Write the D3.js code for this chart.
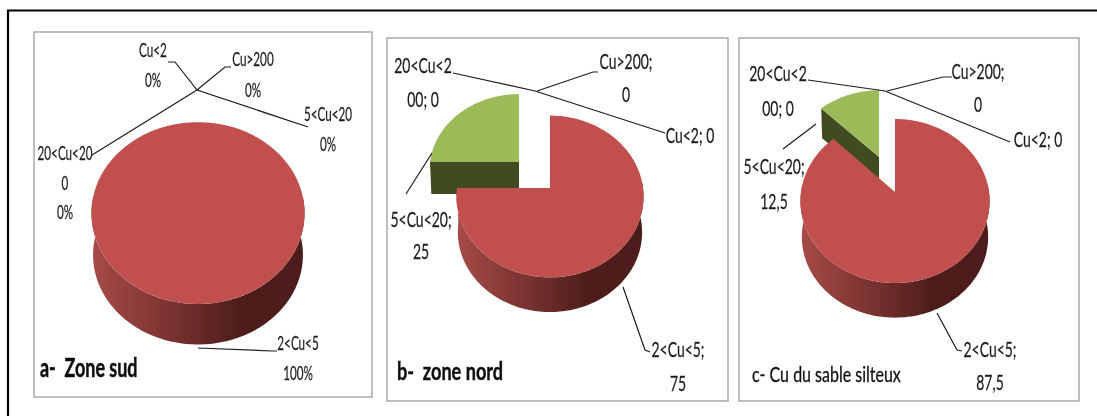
<!DOCTYPE html>
<html>
<head>
<meta charset="utf-8">
<script src="https://d3js.org/d3.v7.min.js"></script>
<style>
  html, body { margin: 0; background: #fff; }
  svg { display: block; }
  text { font-family: Lato, "Open Sans", sans-serif; fill: #1c1c1c; }
</style>
</head>
<body>
<svg id="chart" width="1097" height="416"></svg>
<script>
const categories = ['Cu<2', '2<Cu<5', '5<Cu<20', '20<Cu<200', 'Cu>200'];
const zoneSud = [0, 100, 0, 0, 0];
const zoneNord = [0, 75, 25, 0, 0];
const sableSilteux = [0, 87.5, 12.5, 0, 0];

const titleSud = 'a-  Zone sud';
const titleNord = 'b-  zone nord';
const titleSable = 'c- Cu du sable silteux';

const labelsSud = [['Cu<2', '0%'], ['2<Cu<5', '100%'], ['5<Cu<20', '0%'], ['20<Cu<20', '0', '0%'], ['Cu>200', '0%']];
const labelsNord = [['Cu<2; 0'], ['2<Cu<5;', '75'], ['5<Cu<20;', '25'], ['20<Cu<2', '00; 0'], ['Cu>200;', '0']];
const labelsSable = [['Cu<2; 0'], ['2<Cu<5;', '87,5'], ['5<Cu<20;', '12,5'], ['20<Cu<2', '00; 0'], ['Cu>200;', '0']];

const red = '#c0504d';
const green = '#9bbb59';
const greenDark = '#3f4c22';

// layout of each panel: box, pie geometry, label anchors and leader lines
const panels = [
  {
    values: zoneSud, labels: labelsSud, title: titleSud,
    box: [34, 32, 372, 397],
    titlePos: [40, 377], titleFont: [26, 0.69, 700, 0.5], labelFont: [20, 0.585],
    slices: { 1: { cx: 198, cy: 204, rx: 106, ry: 90, k: 0.1, depth: 42 } },
    anchors: [[153, 57, 30], [298, 350, 30], [328, 121, 30], [65, 160, 29.5], [253, 66, 31]],
    leaders: [
      [[168, 62], [175, 62], [197, 90], [308, 127]],
      [[198, 348], [272, 351], [277, 351]],
      [[231, 67], [225, 67], [197, 90], [92, 155]]
    ]
  },
  {
    values: zoneNord, labels: labelsNord, title: titleNord,
    box: [387, 38, 728, 401],
    titlePos: [397, 380], titleFont: [24, 0.755, 700, 0.4], labelFont: [22, 0.635],
    slices: {
      1: { cx: 550, cy: 188, rx: 93, ry: 80, k: 0.105, depth: 36 },
      2: { cx: 519, cy: 162, rx: 89, ry: 75, k: 0.105, depth: 32 }
    },
    anchors: [[690, 143, 0], [678, 357, 34], [421, 227, 32], [423, 73, 34], [626, 69, 33]],
    leaders: [
      [[453, 73], [535, 91], [665, 133]],
      [[623, 287], [645, 350], [650, 352]],
      [[432, 153], [406, 194]],
      [[598, 72], [593, 72], [537, 91]]
    ]
  },
  {
    values: sableSilteux, labels: labelsSable, title: titleSable,
    box: [739, 38, 1079, 401],
    titlePos: [752, 382], titleFont: [21.5, 0.745, 400, 0.3], labelFont: [22, 0.635],
    slices: {
      1: { cx: 895, cy: 192, rx: 94, ry: 81, k: 0.11, depth: 36 },
      2: { cx: 879, cy: 157, rx: 88, ry: 74, k: 0.11, depth: 29 }
    },
    anchors: [[1038, 147, 0], [990, 357, 33], [774, 174, 35], [778, 81, 35], [978, 79, 33]],
    leaders: [
      [[808, 80], [885, 91], [1010, 142]],
      [[937, 313], [957, 350], [962, 351]],
      [[816, 124], [783, 149]],
      [[952, 77], [943, 77], [887, 91]]
    ]
  }
];

const svg = d3.select('#chart');
const defs = svg.append('defs');

defs.append('filter').attr('id', 'soft')
  .append('feGaussianBlur').attr('stdDeviation', 0.35);

const grad = defs.append('linearGradient').attr('id', 'redSide');
[[0, '#a64b48'], [0.35, '#7c3432'], [0.68, '#4f1f1d'], [1, '#4e1e1c']].forEach(s => {
  grad.append('stop').attr('offset', s[0]).attr('stop-color', s[1]);
});

const root = svg.append('g').attr('filter', 'url(#soft)');

// outer frame only has a top and a left edge
root.append('path')
  .attr('d', d3.line()([[8, 416], [8, 10.5], [1097, 10.5]]))
  .attr('fill', 'none').attr('stroke', '#000').attr('stroke-width', 2.2);

const pie = d3.pie().sort(null);
const line = d3.line();

// tilted disc: the far side shrinks a bit, so the apex is not the ellipse centre
function project(g, a, drop) {
  const x = Math.sin(a), y = -Math.cos(a);
  const w = 1 - g.k * y;
  const s = drop ? 0.985 : 1;
  return [g.cx + s * g.rx * x / w, g.cy + s * g.ry * y / w + (drop ? g.depth : 0)];
}

function arcPoints(g, a0, a1, drop) {
  const n = Math.max(2, Math.ceil((a1 - a0) * 40));
  return d3.range(n + 1).map(i => project(g, a0 + (a1 - a0) * i / n, drop));
}

panels.forEach(p => {
  const g = root.append('g');

  g.append('rect')
    .attr('x', p.box[0]).attr('y', p.box[1])
    .attr('width', p.box[2] - p.box[0]).attr('height', p.box[3] - p.box[1])
    .attr('fill', '#fff').attr('stroke', '#a3a3a3').attr('stroke-width', 1.4);

  const arcs = pie(p.values).filter(d => d.value > 0);

  // green first, the red slice sits in front of it
  arcs.slice().reverse().forEach(d => {
    const geo = p.slices[d.index];
    const full = d.endAngle - d.startAngle >= 2 * Math.PI - 1e-6;
    const apex = [geo.cx, geo.cy];

    if (d.index === 1) {
      const a0 = Math.max(d.startAngle, Math.PI * 0.47);
      const a1 = Math.min(d.endAngle, Math.PI * 1.53);
      const side = arcPoints(geo, a0, a1, false).concat(arcPoints(geo, a0, a1, true).reverse());
      g.append('path').attr('d', line(side) + 'Z').attr('fill', 'url(#redSide)');
    } else {
      const edge = project(geo, d.startAngle, false);
      const low = project(geo, d.startAngle, true);
      const face = [apex, edge, low, [geo.cx, geo.cy + geo.depth]];
      g.append('path').attr('d', line(face) + 'Z').attr('fill', greenDark);
    }

    const top = arcPoints(geo, d.startAngle, d.endAngle, false);
    if (!full) top.push(apex);
    g.append('path').attr('d', line(top) + 'Z').attr('fill', d.index === 1 ? red : green);
  });

  p.leaders.forEach(l => {
    g.append('path').attr('d', line(l))
      .attr('fill', 'none').attr('stroke', '#1c1c1c').attr('stroke-width', 1.2);
  });

  p.labels.forEach((rows, i) => {
    const a = p.anchors[i];
    rows.forEach((txt, j) => {
      g.append('text')
        .attr('transform', `translate(${a[0]},${a[1] + j * a[2]}) scale(${p.labelFont[1]},1)`)
        .attr('text-anchor', 'middle')
        .attr('font-size', p.labelFont[0])
        .attr('stroke', '#1c1c1c').attr('stroke-width', 0.25)
        .text(txt);
    });
  });

  g.append('text')
    .attr('transform', `translate(${p.titlePos[0]},${p.titlePos[1]}) scale(${p.titleFont[1]},1)`)
    .attr('font-size', p.titleFont[0])
    .attr('font-weight', p.titleFont[2])
    .attr('stroke', '#111').attr('stroke-width', p.titleFont[3])
    .style('white-space', 'pre')
    .style('fill', '#111')
    .text(p.title);
});
</script>
</body>
</html>
